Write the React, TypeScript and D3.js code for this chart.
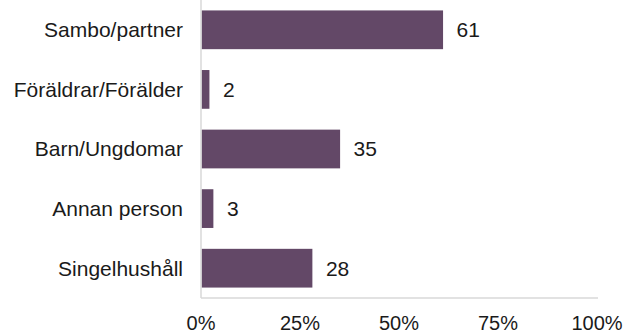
import React from "react";
import * as d3 from "d3";

const categories = ["Sambo/partner", "Föräldrar/Förälder", "Barn/Ungdomar", "Annan person", "Singelhushåll"];
const values = [61, 2, 35, 3, 28];
const ticks = [0, 25, 50, 75, 100];

export default function App() {
  const W = 627, H = 332;
  const x0 = 201, x1 = 597, yTop = 0, yBot = 298;
  const x = d3.scaleLinear().domain([0, 100]).range([x0, x1]);
  const y = d3.scaleBand().domain(categories).range([yTop, yBot]).paddingInner(0.35).paddingOuter(0.175);
  const font = "Arial, 'Liberation Sans', sans-serif";
  return (
    <svg width={W} height={H} style={{ position: "absolute", left: 0, top: 0 }} fontFamily={font}>
      <rect width={W} height={H} fill="#fff" />
      {categories.map((c, i) => (
        <g key={c}>
          <rect x={x(0) + 0.5} y={y(c)!} width={x(values[i]) - x(0)} height={y.bandwidth()} fill="#634867" />
          <text x={183} y={y(c)! + y.bandwidth() / 2} dy="0.35em" textAnchor="end" fontSize={21} fill="#1a1a1a">{c}</text>
          <text x={x(values[i]) + 14} y={y(c)! + y.bandwidth() / 2} dy="0.35em" fontSize={21} fill="#1a1a1a">{values[i]}</text>
        </g>
      ))}
      <line x1={x0} x2={x0} y1={yTop} y2={yBot} stroke="#d9d9d9" strokeWidth={1.5} />
      <line x1={x0} x2={x1 + 1} y1={yBot} y2={yBot} stroke="#d9d9d9" strokeWidth={1.5} />
      {ticks.map(t => (
        <text key={t} x={x(t)} y={329.5} textAnchor="middle" fontSize={20} fill="#1a1a1a">{t}%</text>
      ))}
    </svg>
  );
}
